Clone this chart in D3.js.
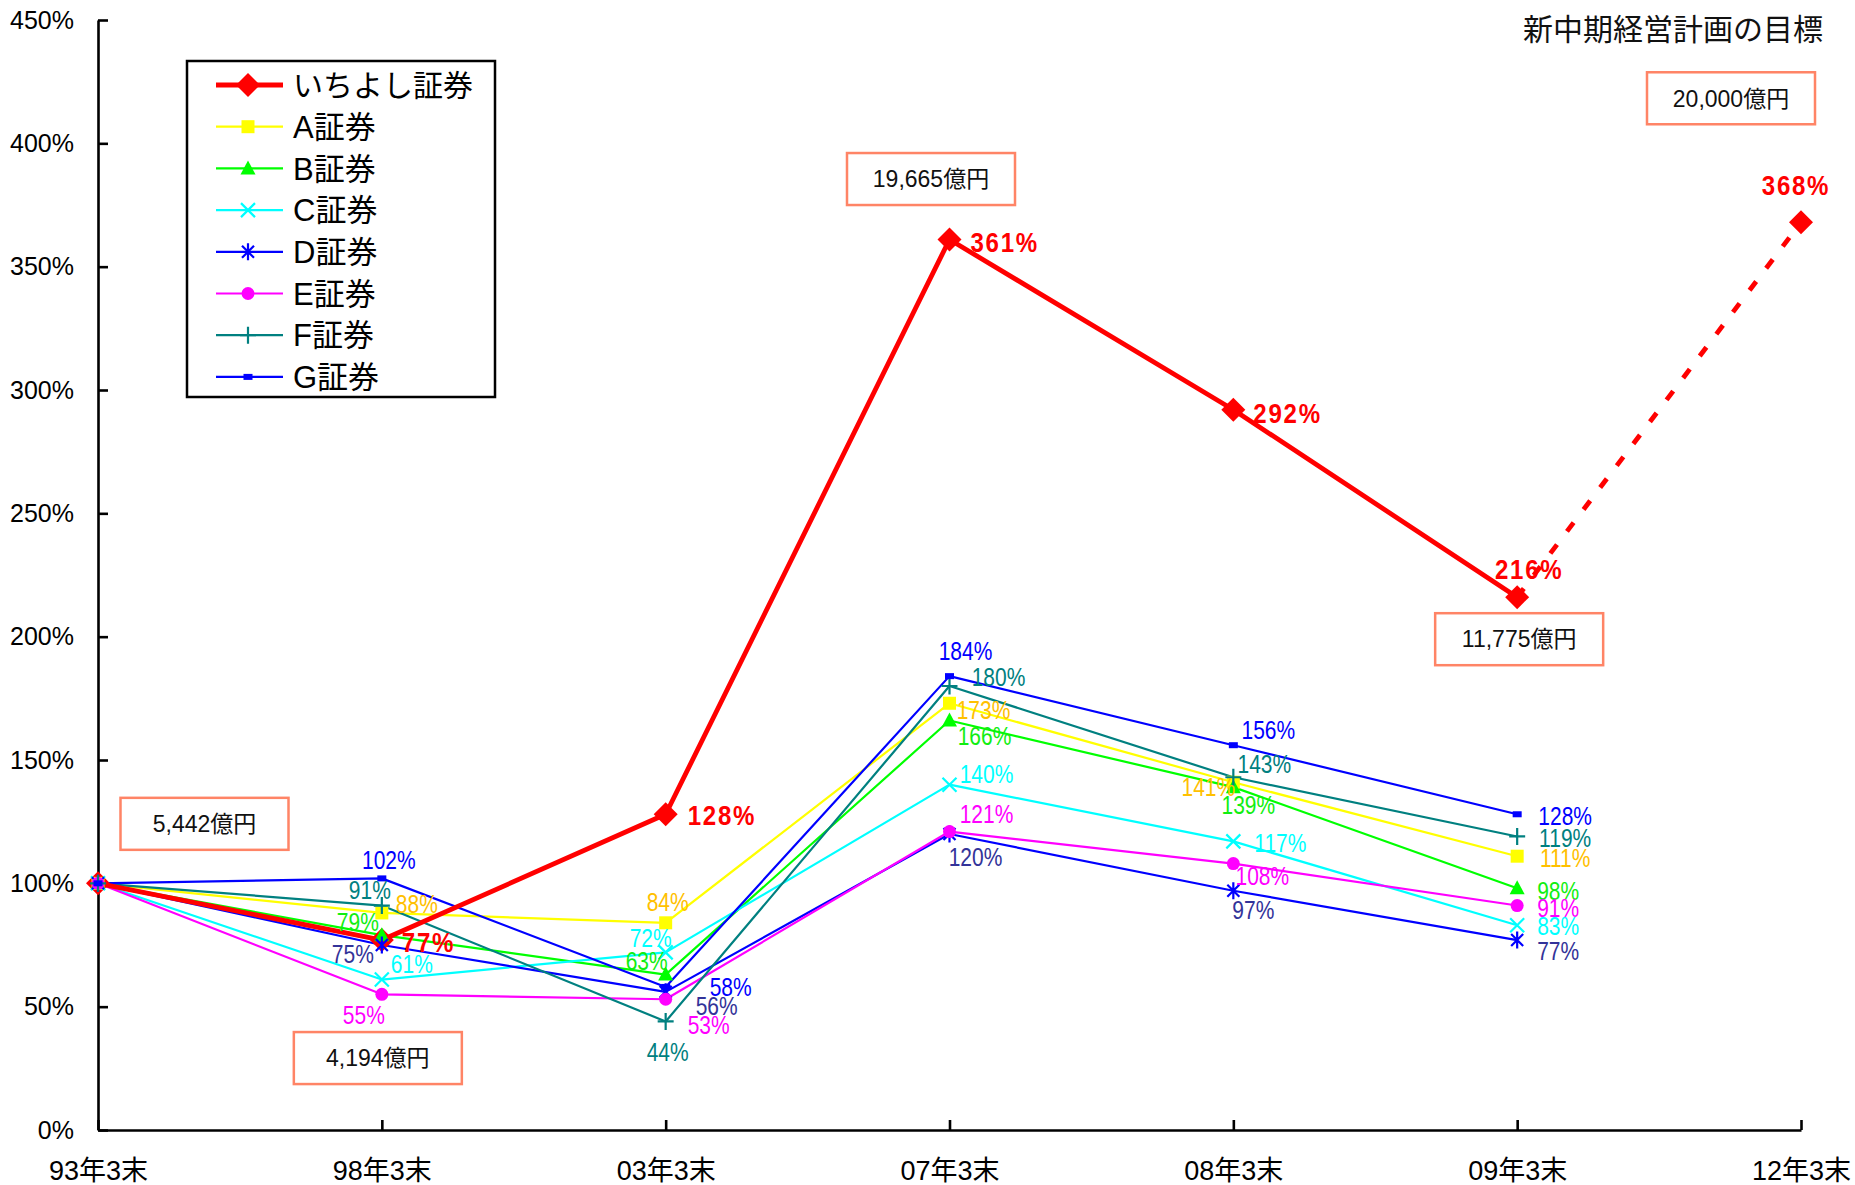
<!DOCTYPE html>
<html><head><meta charset="utf-8">
<script src="https://cdn.jsdelivr.net/npm/d3@7"></script>
<style>
html,body{margin:0;padding:0;background:#fff;}
svg{display:block;}
text{font-family:"Liberation Sans","Noto Sans CJK JP",sans-serif;}
</style></head>
<body>
<svg id="chart" width="1855" height="1185"></svg>
<script>
// ---- data ----
const categories = ["93年3末","98年3末","03年3末","07年3末","08年3末","09年3末","12年3末"];
const yTicks = [0,50,100,150,200,250,300,350,400,450];
const ichiyoshi = [100,77,128,361,292,216,368];
const seriesA = [100,88,84,173,141,111];
const seriesB = [100,79,63,166,139,98];
const seriesC = [100,61,72,140,117,83];
const seriesD = [100,75,56,120,97,77];
const seriesE = [100,55,53,121,108,91];
const seriesF = [100,91,44,180,143,119];
const seriesG = [100,102,58,184,156,128];
const seriesNames = ["いちよし証券","A証券","B証券","C証券","D証券","E証券","F証券","G証券"];
const amountNotes = ["5,442億円","4,194億円","19,665億円","11,775億円","20,000億円"];
const amountCats = ["93年3末","98年3末","07年3末","09年3末","12年3末"];
const title = "新中期経営計画の目標";

// ---- layout / style (not data) ----
const others = [
  {name:"A証券", vals:seriesA, line:"#FFFF00", label:"#FFC000", marker:"square",
   off:[null,[35,-9],[2,-21],[34,7],[-25,5],[48,2]]},
  {name:"B証券", vals:seriesB, line:"#00FF00", label:"#11EE11", marker:"triangle",
   off:[null,[-24,-13],[-19,-13],[35,16],[15,18],[41,3]]},
  {name:"C証券", vals:seriesC, line:"#00FFFF", label:"#00FFFF", marker:"x",
   off:[null,[30,-15],[-15,-14],[37,-10],[47,2],[41,1]]},
  {name:"D証券", vals:seriesD, line:"#0000FF", label:"#333399", marker:"asterisk",
   off:[null,[-29,9],[51,14],[26,23],[20,20],[41,11]]},
  {name:"E証券", vals:seriesE, line:"#FF00FF", label:"#FF00FF", marker:"circle",
   off:[null,[-18,21],[43,26],[37,-17],[29,13],[41,3]]},
  {name:"F証券", vals:seriesF, line:"#008080", label:"#008080", marker:"plus",
   off:[null,[-12,-15],[2,31],[49,-9],[31,-13],[48,2]]},
  {name:"G証券", vals:seriesG, line:"#0000FF", label:"#0000FF", marker:"dash",
   off:[null,[7,-18],[65,0],[16,-25],[35,-15],[48,2]]}
];
const redOff = [null,[20,2,"start"],[22,1,"start"],[21,2,"start"],[20,3,"start"],[12,-28,"middle"],[-5,-37,"middle"]];
const noteOff = [[106.5,-59.5],[-4,118],[-18.5,-60.5],[2,42],[-70,-124]];

const svg = d3.select("#chart");
const x = d3.scalePoint().domain(categories).range([98,1801]);
const y = d3.scaleLinear().domain([0,450]).range([1130,20]);
const fmt = v => v + "%";

// axes
const yAxis = d3.axisLeft(y).tickValues(yTicks).tickFormat(fmt).tickSizeInner(-10).tickSizeOuter(0).tickPadding(24);
const gy = svg.append("g").attr("transform","translate(98,0)").call(yAxis);
gy.selectAll("text").attr("font-size",25).attr("fill","#000").attr("font-family","Liberation Sans");
gy.selectAll("line,path").attr("stroke","#000").attr("stroke-width",2.6);

const xAxis = d3.axisBottom(x).tickSizeInner(-10).tickSizeOuter(0).tickPadding(0);
const gx = svg.append("g").attr("transform","translate(0,1130)").call(xAxis);
gx.selectAll("text").attr("font-size",27).attr("fill","#000").attr("y",41).attr("dy","0.35em");
gx.selectAll("line,path").attr("stroke","#000").attr("stroke-width",2.6);

// marker drawer
function drawMarker(g, type, color){
  switch(type){
    case "diamond": g.append("path").attr("d","M0,-12L12,0L0,12L-12,0Z").attr("fill",color); break;
    case "square": g.append("rect").attr("x",-6.5).attr("y",-6.5).attr("width",13).attr("height",13).attr("fill",color); break;
    case "triangle": g.append("path").attr("d","M0,-8L7.5,6L-7.5,6Z").attr("fill",color); break;
    case "x": g.append("path").attr("d","M-7,-7L7,7M-7,7L7,-7").attr("stroke",color).attr("stroke-width",2.2).attr("fill","none"); break;
    case "asterisk": g.append("path").attr("d","M-6,-6L6,6M-6,6L6,-6M0,-8.5L0,8.5").attr("stroke",color).attr("stroke-width",2.2).attr("fill","none"); break;
    case "circle": g.append("circle").attr("r",6.5).attr("fill",color); break;
    case "plus": g.append("path").attr("d","M-8,0L8,0M0,-8.5L0,8.5").attr("stroke",color).attr("stroke-width",2.2).attr("fill","none"); break;
    case "dash": g.append("rect").attr("x",-4.5).attr("y",-3).attr("width",9).attr("height",6).attr("fill",color); break;
  }
}

const line = d3.line().x((d,i)=>x(categories[i])).y(d=>y(d));

// other series lines
others.forEach(s=>{
  svg.append("path").attr("d",line(s.vals)).attr("fill","none").attr("stroke",s.line).attr("stroke-width",2.2).attr("stroke-linejoin","round");
});

// red line: solid through 09, dashed to 12
const solid = ichiyoshi.slice(0,6);
svg.append("path").attr("d",line(solid)).attr("fill","none").attr("stroke","#FF0000").attr("stroke-width",4.8).attr("stroke-linejoin","round");
const dashPts = [[x(categories[5]),y(ichiyoshi[5])],[x(categories[6]),y(ichiyoshi[6])]];
svg.append("path").attr("d",d3.line()(dashPts)).attr("fill","none").attr("stroke","#FF0000").attr("stroke-width",4.8).attr("stroke-dasharray","11,16.5");

// red markers
ichiyoshi.forEach((v,i)=>{
  const g = svg.append("g").attr("transform",`translate(${x(categories[i])},${y(v)})`);
  drawMarker(g,"diamond","#FF0000");
});
// other markers
others.forEach(s=>{
  s.vals.forEach((v,i)=>{
    const g = svg.append("g").attr("transform",`translate(${x(categories[i])},${y(v)})`);
    drawMarker(g,s.marker,s.line);
  });
});

// other labels
others.forEach(s=>{
  s.vals.forEach((v,i)=>{
    const o = s.off[i]; if(!o) return;
    svg.append("text")
      .attr("transform",`translate(${x(categories[i])+o[0]},${y(v)+o[1]}) scale(0.84,1)`)
      .attr("text-anchor","middle").attr("dy","0.35em")
      .attr("font-size",25).attr("fill",s.label).text(fmt(v));
  });
});
// red labels
ichiyoshi.forEach((v,i)=>{
  const o = redOff[i]; if(!o) return;
  svg.append("text")
    .attr("transform",`translate(${x(categories[i])+o[0]},${y(v)+o[1]}) scale(0.86,1)`)
    .attr("text-anchor",o[2]).attr("dy","0.36em")
    .attr("font-size",28).attr("font-weight","bold").attr("letter-spacing",2)
    .attr("fill","#FF0000").text(fmt(v));
});

// amount boxes
amountNotes.forEach((t,k)=>{
  const o = noteOff[k];
  const ci = categories.indexOf(amountCats[k]);
  const cx = x(amountCats[k]) + o[0];
  const cy = y(ichiyoshi[ci]) + o[1];
  svg.append("rect").attr("x",cx-84).attr("y",cy-26).attr("width",168).attr("height",52)
    .attr("fill","#fff").attr("stroke","#FF8466").attr("stroke-width",2.5);
  svg.append("text").attr("x",cx).attr("y",cy).attr("dy","0.36em").attr("text-anchor","middle")
    .attr("font-size",23).attr("fill","#111").text(t);
});

// title
svg.append("text").attr("x",1823).attr("y",29).attr("dy","0.36em").attr("text-anchor","end")
  .attr("font-size",30).attr("font-family","Noto Sans CJK JP").attr("fill","#111").text(title);

// legend
const legend = svg.append("g");
legend.append("rect").attr("x",187).attr("y",61).attr("width",308).attr("height",336)
  .attr("fill","#fff").attr("stroke","#000").attr("stroke-width",2.5);
const legendItems = [{line:"#FF0000",marker:"diamond",w:4.8,fs:30}].concat(others.map(s=>({line:s.line,marker:s.marker,w:2.2,fs:31})));
legendItems.forEach((it,i)=>{
  const ry = 85 + i*41.7;
  legend.append("line").attr("x1",216).attr("x2",283).attr("y1",ry).attr("y2",ry).attr("stroke",it.line).attr("stroke-width",it.w);
  const g = legend.append("g").attr("transform",`translate(248,${ry})`);
  drawMarker(g,it.marker,it.line);
  legend.append("text").attr("x",293).attr("y",ry).attr("dy","0.36em").attr("font-size",it.fs).attr("fill","#000").text(seriesNames[i]);
});
</script>
</body></html>
